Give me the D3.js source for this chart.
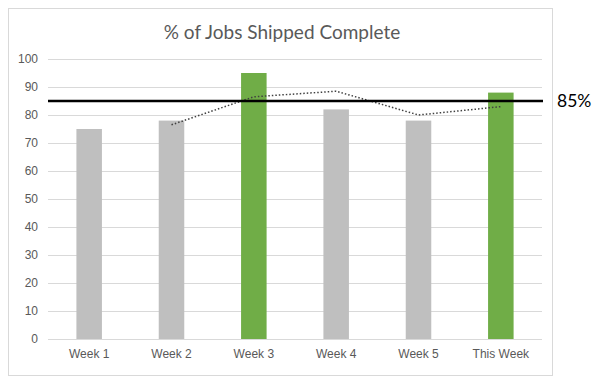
<!DOCTYPE html>
<html lang="en">
<head>
    <meta charset="UTF-8">
    <title>% of Jobs Shipped Complete</title>
    <script src="https://cdnjs.cloudflare.com/ajax/libs/d3/7.8.5/d3.min.js"></script>
    <style>
        body {
            margin: 0;
            padding: 0;
            background-color: #ffffff;
            font-family: Lato, "Open Sans", sans-serif;
        }
        svg {
            display: block;
        }
        .tick text {
            fill: #595959;
            font-size: 12px;
        }
    </style>
</head>
<body>
    <svg width="600" height="382"></svg>

    <script>
        // chart values
        const weeks = ["Week 1", "Week 2", "Week 3", "Week 4", "Week 5", "This Week"];
        const pctShipped = [75, 78, 95, 82, 78, 88];
        const highlighted = [false, false, true, false, false, true];
        const target = 85;
        const yTicks = [0, 10, 20, 30, 40, 50, 60, 70, 80, 90, 100];

        const svg = d3.select("svg");
        const margin = { left: 48, right: 58, top: 59, bottom: 43 };
        const width = 600, height = 382;

        // outer chart frame
        svg.append("rect")
            .attr("x", 8.5).attr("y", 8.5)
            .attr("width", 544).attr("height", 367)
            .attr("fill", "#fff")
            .attr("stroke", "#d9d9d9");

        svg.append("text")
            .attr("x", 282).attr("y", 39)
            .attr("text-anchor", "middle")
            .attr("fill", "#595959")
            .attr("font-size", 19)
            .text("% of Jobs Shipped Complete");

        const x = d3.scaleBand()
            .domain(weeks)
            .range([margin.left, width - margin.right])
            .paddingInner(0.69)
            .paddingOuter(0.345);

        const y = d3.scaleLinear()
            .domain([0, 100])
            .range([height - margin.bottom, margin.top]);

        // gridlines
        svg.append("g")
            .selectAll("line")
            .data(yTicks)
            .enter().append("line")
            .attr("x1", margin.left)
            .attr("x2", width - margin.right)
            .attr("y1", d => Math.round(y(d)) + 0.5)
            .attr("y2", d => Math.round(y(d)) + 0.5)
            .attr("stroke", "#d9d9d9")
            .attr("stroke-width", 1);

        const yAxis = svg.append("g")
            .attr("transform", `translate(${margin.left - 6},0)`)
            .call(d3.axisLeft(y).tickValues(yTicks).tickSize(0).tickPadding(4));
        yAxis.select(".domain").remove();

        const xAxis = svg.append("g")
            .attr("transform", `translate(0,${height - margin.bottom})`)
            .call(d3.axisBottom(x).tickSize(0).tickPadding(10));
        xAxis.select(".domain").remove();

        // bars
        svg.append("g")
            .selectAll("rect")
            .data(weeks)
            .enter().append("rect")
            .attr("x", d => x(d))
            .attr("width", x.bandwidth())
            .attr("y", (d, i) => y(pctShipped[i]))
            .attr("height", (d, i) => y(0) - y(pctShipped[i]))
            .attr("fill", (d, i) => highlighted[i] ? "#70ad47" : "#bfbfbf");

        // 2-period moving average trendline
        const movingAvg = pctShipped.slice(1).map((v, i) => ({
            week: weeks[i + 1],
            value: (v + pctShipped[i]) / 2
        }));

        svg.append("path")
            .datum(movingAvg)
            .attr("fill", "none")
            .attr("stroke", "#404040")
            .attr("stroke-width", 1.5)
            .attr("stroke-dasharray", "1.5,2")
            .attr("d", d3.line()
                .x(d => x(d.week) + x.bandwidth() / 2)
                .y(d => y(d.value)));

        // target line
        svg.append("line")
            .attr("x1", margin.left)
            .attr("x2", width - margin.right + 1)
            .attr("y1", y(target))
            .attr("y2", y(target))
            .attr("stroke", "#000")
            .attr("stroke-width", 2.5);

        svg.append("text")
            .attr("x", 557)
            .attr("y", y(target) + 6)
            .attr("fill", "#000")
            .attr("font-size", 17.5)
            .text(target + "%");
    </script>
</body>
</html>
